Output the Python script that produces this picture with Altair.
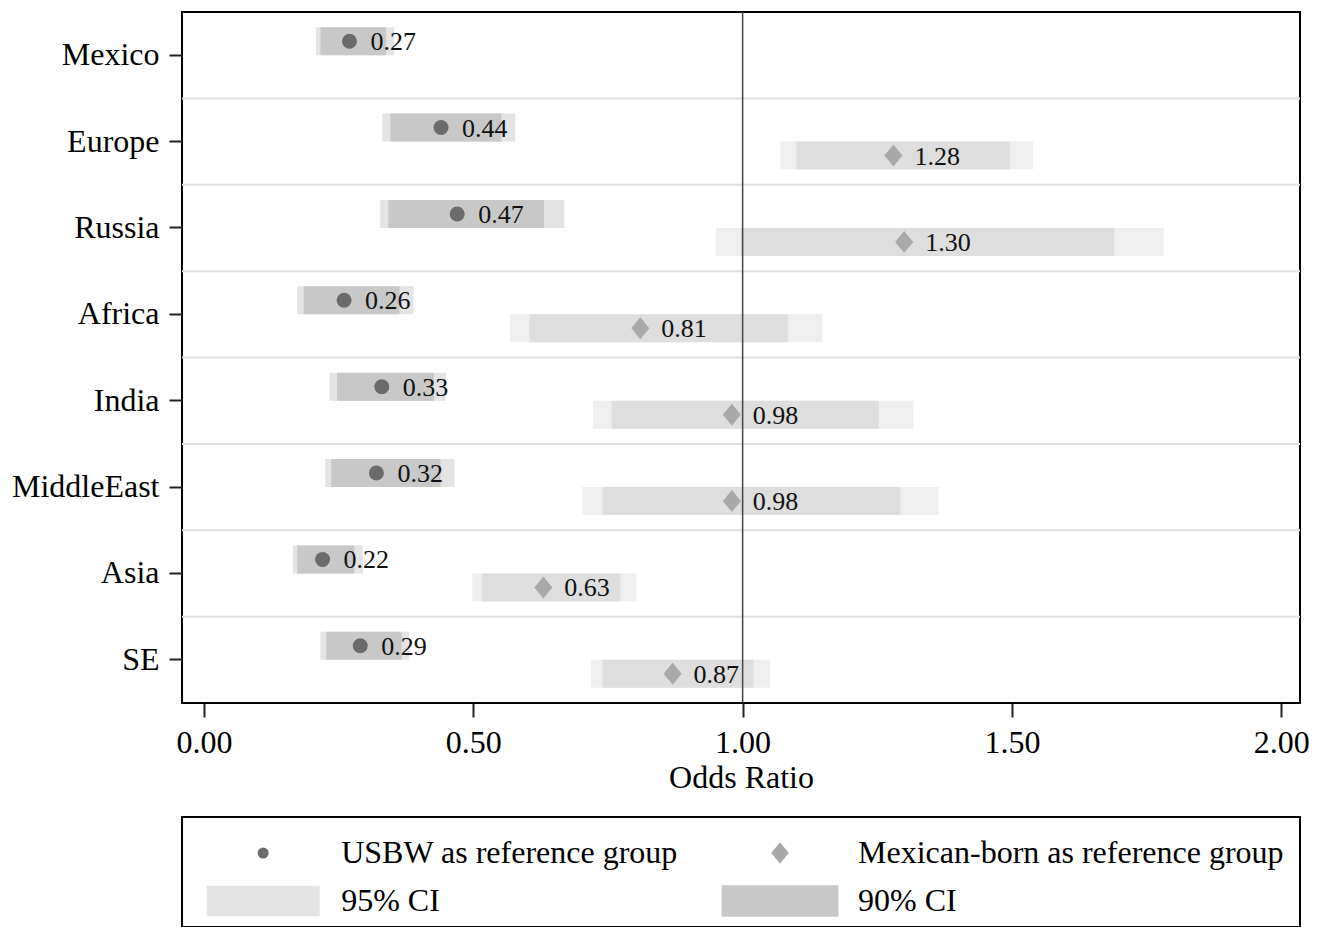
import altair as alt
import pandas as pd

# ---------------- data ----------------
regions = ["Mexico", "Europe", "Russia", "Africa", "India", "MiddleEast", "Asia", "SE"]

usbw_or   = [0.27, 0.44, 0.47, 0.26, 0.33, 0.32, 0.22, 0.29]
usbw_lo95 = [0.208, 0.331, 0.327, 0.173, 0.233, 0.225, 0.165, 0.216]
usbw_hi95 = [0.353, 0.578, 0.669, 0.389, 0.449, 0.465, 0.295, 0.381]
usbw_lo90 = [0.216, 0.346, 0.342, 0.185, 0.247, 0.236, 0.173, 0.227]
usbw_hi90 = [0.338, 0.552, 0.631, 0.363, 0.427, 0.439, 0.279, 0.367]

mex_regions = ["Europe", "Russia", "Africa", "India", "MiddleEast", "Asia", "SE"]
mex_or   = [1.28, 1.30, 0.81, 0.98, 0.98, 0.63, 0.87]
mex_lo95 = [1.070, 0.950, 0.568, 0.722, 0.702, 0.498, 0.719]
mex_hi95 = [1.539, 1.782, 1.148, 1.317, 1.364, 0.803, 1.051]
mex_lo90 = [1.100, 0.997, 0.604, 0.757, 0.740, 0.516, 0.740]
mex_hi90 = [1.496, 1.690, 1.084, 1.253, 1.293, 0.773, 1.020]

groups = ["USBW", "Mexican"]
ci_keys = ["USBW 95", "USBW 90", "Mexican 95", "Mexican 90"]
ref_value = [1.0]
x_ticks = [0, 0.5, 1, 1.5, 2]

leg_labels = ["USBW as reference group", "Mexican-born as reference group", "95% CI", "90% CI"]
leg_col = [0, 1, 0, 1]
leg_row = [0, 0, 1, 1]

# ---------------- tables ----------------
rows = []
for level, ulo, uhi, mlo, mhi in [("95", usbw_lo95, usbw_hi95, mex_lo95, mex_hi95),
                                   ("90", usbw_lo90, usbw_hi90, mex_lo90, mex_hi90)]:
    for r, lo, hi in zip(regions, ulo, uhi):
        rows.append({"region": r, "group": "USBW", "key": "USBW " + level, "lo": lo, "hi": hi})
    for r, lo, hi in zip(mex_regions, mlo, mhi):
        rows.append({"region": r, "group": "Mexican", "key": "Mexican " + level, "lo": lo, "hi": hi})
ci_df = pd.DataFrame(rows)

pts_df = pd.DataFrame({
    "region": regions + mex_regions,
    "group": ["USBW"] * len(regions) + ["Mexican"] * len(mex_regions),
    "or": usbw_or + mex_or,
})
sep_df = pd.DataFrame({"region": regions[1:]})
ref_df = pd.DataFrame({"ref": ref_value})
leg_df = pd.DataFrame({"label": leg_labels, "col": leg_col, "row": leg_row})

FONT = "Liberation Serif"
DIAMOND = "M0,-1.1L0.9,0L0,1.1L-0.9,0Z"
RECT = "M-1,-0.27L1,-0.27L1,0.27L-1,0.27Z"

xscale = alt.Scale(domain=[-0.041, 2.035], nice=False, zero=False)
yscale = alt.Scale(domain=regions, paddingInner=0, paddingOuter=0)
yoff = alt.YOffset("group:N", scale=alt.Scale(domain=groups, paddingInner=0, paddingOuter=0.543))

x_axis = alt.Axis(values=x_ticks, format=".2f", title="Odds Ratio", tickSize=14, tickWidth=2,
                  tickColor="#222222", labelFontSize=32, labelPadding=10, titleFontSize=32,
                  titlePadding=4, labelColor="black", titleColor="black", titleFontWeight="normal",
                  domain=False, grid=False, labelFont=FONT, titleFont=FONT)
y_axis = alt.Axis(title=None, tickSize=13, tickWidth=2, tickColor="#222222", labelFontSize=32,
                  labelPadding=10, labelColor="black", domain=False, grid=False, labelFont=FONT)

sep = alt.Chart(sep_df).mark_rule(color="#e0e0e0", strokeWidth=2).encode(
    y=alt.Y("region:N", scale=yscale, bandPosition=0, axis=y_axis)
)

bars = alt.Chart(ci_df).mark_bar().encode(
    x=alt.X("lo:Q", scale=xscale, axis=x_axis),
    x2="hi:Q",
    y=alt.Y("region:N", scale=yscale, axis=y_axis),
    yOffset=yoff,
    color=alt.Color("key:N", scale=alt.Scale(domain=ci_keys,
                    range=["#e4e4e4", "#c8c8c8", "#efefef", "#dedede"]), legend=None),
)

ref = alt.Chart(ref_df).mark_rule(color="#444444", strokeWidth=1.5).encode(
    x=alt.X("ref:Q", scale=xscale)
)

pts_u = alt.Chart(pts_df).transform_filter(alt.datum.group == "USBW").mark_point(
    filled=True, opacity=1, shape="circle", size=225, color="#6b6b6b", strokeWidth=0
).encode(x=alt.X("or:Q", scale=xscale), y=alt.Y("region:N", scale=yscale), yOffset=yoff)

pts_m = alt.Chart(pts_df).transform_filter(alt.datum.group == "Mexican").mark_point(
    filled=True, opacity=1, shape=DIAMOND, size=400, color="#a9a9a9", strokeWidth=0
).encode(x=alt.X("or:Q", scale=xscale), y=alt.Y("region:N", scale=yscale), yOffset=yoff)

labels = alt.Chart(pts_df).mark_text(
    align="left", baseline="middle", dx=21, dy=1, fontSize=26, font=FONT, color="#111111"
).encode(
    x=alt.X("or:Q", scale=xscale), y=alt.Y("region:N", scale=yscale), yOffset=yoff,
    text=alt.Text("or:Q", format=".2f"),
)

top = alt.layer(sep, bars, ref, pts_u, pts_m, labels).properties(width=1118, height=691)

# ---------------- legend panel ----------------
lx = alt.X("col:Q", scale=alt.Scale(domain=[-0.157, 2.006], nice=False, zero=False), axis=None)
ly = alt.Y("row:Q", scale=alt.Scale(domain=[-0.75, 1.5417], nice=False, zero=False, reverse=True), axis=None)

leg_base = alt.Chart(leg_df)
leg_dot = leg_base.transform_filter(alt.datum.label == leg_labels[0]).mark_point(
    filled=True, opacity=1, strokeWidth=0, shape="circle", size=121, color="#6b6b6b"
).encode(x=lx, y=ly)
leg_dia = leg_base.transform_filter(alt.datum.label == leg_labels[1]).mark_point(
    filled=True, opacity=1, strokeWidth=0, shape=DIAMOND, size=380, color="#a9a9a9"
).encode(x=lx, y=ly)
leg_c95 = leg_base.transform_filter(alt.datum.label == leg_labels[2]).mark_point(
    filled=True, opacity=1, strokeWidth=0, shape=RECT, size=12769, color="#e4e4e4"
).encode(x=lx, y=ly)
leg_c90 = leg_base.transform_filter(alt.datum.label == leg_labels[3]).mark_point(
    filled=True, opacity=1, strokeWidth=0, shape=RECT, size=13690, color="#c8c8c8"
).encode(x=lx, y=ly)
leg_txt = leg_base.mark_text(
    align="left", baseline="middle", dx=78, fontSize=32, font=FONT, color="black"
).encode(x=lx, y=ly, text="label:N")

legend = alt.layer(leg_c95, leg_c90, leg_dot, leg_dia, leg_txt).properties(width=1118, height=110)

chart = alt.vconcat(top, legend, spacing=114, bounds="flush").properties(
    padding={"left": 2, "top": 2, "right": 5, "bottom": 2}
).configure(
    font=FONT,
    view=alt.ViewConfig(stroke="black", strokeWidth=2),
)

chart.save("out.html", embed_options={"renderer": "svg", "actions": False})
